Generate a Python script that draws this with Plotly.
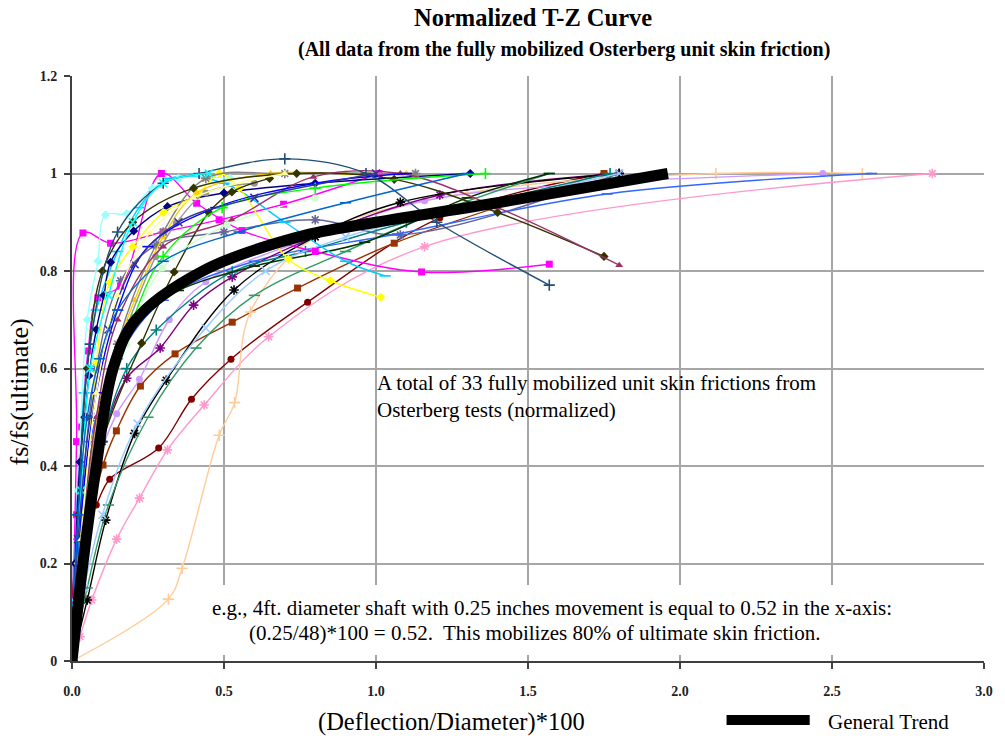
import plotly.graph_objects as go

# ---- normalized t-z data: (deflection/diameter*100, fs/fs_ult) ----
S01 = ([0, 0.026, 0.065, 0.147, 0.222, 0.314, 0.435, 0.647, 1.16, 2.83],
       [0, 0.05, 0.125, 0.25, 0.334, 0.433, 0.525, 0.665, 0.85, 1.0])
S02 = ([0, 0.02, 0.08, 0.124, 0.285, 0.393, 0.523, 0.775, 1.21, 1.75],
       [0, 0.25, 0.32, 0.373, 0.437, 0.537, 0.619, 0.736, 0.909, 1.0])
S03 = ([0, 0.03, 0.102, 0.146, 0.225, 0.339, 0.527, 0.742, 1.06, 1.75],
       [0, 0.2, 0.402, 0.472, 0.564, 0.63, 0.695, 0.765, 0.857, 1.0])
S04 = ([0, 0.317, 0.362, 0.484, 0.535, 0.587, 0.8, 1.3, 2.118, 2.6],
       [0, 0.127, 0.19, 0.463, 0.53, 0.716, 0.87, 0.96, 1.0, 1.0])
S05 = ([0, 0.003, 0.06, 0.147, 0.222, 0.32, 0.44, 0.75, 1.16, 1.725, 2.47],
       [0, 0.19, 0.36, 0.507, 0.578, 0.70, 0.778, 0.86, 0.944, 0.98, 1.0])
S06 = ([0, 0.02, 0.08, 0.16, 0.277, 0.5, 0.8, 1.08, 1.8],
       [0, 0.25, 0.6, 0.78, 0.853, 0.88, 0.905, 0.874, 1.0])
S07 = ([0, 0.02, 0.06, 0.15, 0.3, 0.6, 1.07, 1.76, 2.63],
       [0, 0.2, 0.45, 0.62, 0.74, 0.82, 0.876, 0.958, 1.0])
S08 = ([0, 0.03, 0.1, 0.18, 0.29, 0.40, 0.527, 0.8, 1.21, 1.8],
       [0, 0.2, 0.45, 0.58, 0.642, 0.73, 0.788, 0.87, 0.956, 1.0])
S09 = ([0, 0.05, 0.111, 0.206, 0.31, 0.533, 0.8, 1.08, 1.8],
       [0, 0.125, 0.289, 0.467, 0.576, 0.761, 0.87, 0.941, 1.0])
S10 = ([0, 0.05, 0.12, 0.25, 0.408, 0.6, 0.9, 1.2, 1.57],
       [0, 0.15, 0.32, 0.5, 0.642, 0.75, 0.84, 0.92, 1.0])
S11 = ([0, 0.03, 0.1, 0.18, 0.277, 0.527, 0.768, 1.1, 1.77],
       [0, 0.2, 0.45, 0.6, 0.679, 0.798, 0.84, 0.9, 1.0])
S12 = ([0, 0.03, 0.1, 0.2, 0.35, 0.6, 0.963, 1.3, 1.57],
       [0, 0.25, 0.55, 0.7, 0.76, 0.81, 0.859, 0.95, 1.0])
S13 = ([0, 0.04, 0.1, 0.216, 0.44, 0.637, 0.9, 1.3, 1.8],
       [0, 0.15, 0.3, 0.487, 0.683, 0.80, 0.87, 0.93, 1.0])
S14 = ([0, 0.015, 0.036, 0.127, 0.3, 0.484, 0.696, 1.01],
       [0, 0.45, 0.878, 0.857, 0.88, 0.905, 0.937, 1.0])
S15 = ([0, 0.015, 0.032, 0.053, 0.085, 0.16, 0.294, 0.41, 0.559, 0.8, 1.15, 1.57],
       [0, 0.3, 0.48, 0.636, 0.745, 0.769, 1.0, 0.939, 0.883, 0.84, 0.798, 0.814])
S16 = ([0, 0.015, 0.04, 0.08, 0.15, 0.22, 0.32, 0.5, 0.7, 0.9, 1.03],
       [0, 0.3, 0.55, 0.72, 0.84, 0.93, 0.99, 0.98, 0.9, 0.82, 0.79])
S17 = ([0, 0.02, 0.05, 0.085, 0.11, 0.18, 0.264, 0.35, 0.52],
       [0, 0.35, 0.7, 0.82, 0.915, 0.918, 0.97, 0.99, 0.99])
S18 = ([0, 0.01, 0.026, 0.042, 0.056, 0.08, 0.105, 0.127, 0.203, 0.314, 0.5, 0.8, 1.31],
       [0, 0.2, 0.408, 0.5, 0.585, 0.68, 0.75, 0.818, 0.882, 0.932, 0.96, 0.98, 1.0])
S19 = ([0, 0.02, 0.05, 0.08, 0.124, 0.2, 0.3, 0.415, 0.484, 0.55, 0.712, 0.85, 1.016],
       [0, 0.2, 0.395, 0.611, 0.777, 0.85, 0.92, 0.958, 1.0, 0.97, 0.824, 0.78, 0.746])
S20 = ([0, 0.04, 0.1, 0.206, 0.3, 0.41, 0.653, 0.9, 1.1],
       [0, 0.3, 0.55, 0.74, 0.87, 0.96, 1.0, 1.0, 1.0])
S21 = ([0, 0.02, 0.06, 0.12, 0.176, 0.275, 0.343, 0.44, 0.6],
       [0, 0.15, 0.4, 0.58, 0.679, 0.829, 0.898, 0.96, 0.98])
S22 = ([0, 0.05, 0.15, 0.3, 0.44, 0.7, 1.13],
       [0, 0.3, 0.65, 0.88, 0.99, 1.0, 1.0])
S23 = ([0, 0.03, 0.1, 0.229, 0.336, 0.45, 0.526, 0.65],
       [0, 0.2, 0.45, 0.652, 0.798, 0.92, 0.962, 0.99])
S24 = ([0, 0.02, 0.05, 0.1, 0.2, 0.4, 0.739, 1.06, 1.4, 1.75],
       [0, 0.3, 0.6, 0.8, 0.9, 0.97, 1.0, 0.988, 0.92, 0.83])
S25 = ([0, 0.03, 0.08, 0.15, 0.3, 0.526, 0.794, 1.08, 1.4, 1.8],
       [0, 0.25, 0.5, 0.7, 0.85, 0.905, 0.993, 1.0, 0.93, 0.812])
S26 = ([0, 0.03, 0.08, 0.15, 0.25, 0.473, 0.8, 1.1],
       [0, 0.3, 0.55, 0.72, 0.85, 0.93, 0.98, 1.0])
S27 = ([0, 0.03, 0.1, 0.2, 0.3, 0.494, 0.8, 1.36],
       [0, 0.2, 0.5, 0.7, 0.83, 0.93, 0.97, 1.0])
S28 = ([0, 0.03, 0.09, 0.18, 0.297, 0.51, 0.8],
       [0, 0.2, 0.45, 0.65, 0.806, 0.895, 0.95])
S29 = ([0, 0.02, 0.06, 0.15, 0.3, 0.418, 0.7, 0.967, 1.2, 1.57],
       [0, 0.3, 0.65, 0.88, 0.98, 1.0, 1.03, 1.0, 0.9, 0.771])
S30 = ([0, 0.01, 0.03, 0.06, 0.12, 0.2, 0.3, 0.45],
       [0, 0.12, 0.35, 0.6, 0.75, 0.9, 0.98, 1.0])
S31 = ([0, 0.02, 0.06, 0.12, 0.206, 0.35, 0.6, 1.0],
       [0, 0.25, 0.5, 0.68, 0.814, 0.9, 0.95, 1.0])
S32 = ([0, 0.03, 0.08, 0.15, 0.255, 0.4, 0.7],
       [0, 0.25, 0.55, 0.75, 0.878, 0.95, 1.0])
S33 = ([0, 0.02, 0.05, 0.09, 0.15, 0.3, 0.55, 0.9, 1.3],
       [0, 0.3, 0.5, 0.62, 0.72, 0.82, 0.88, 0.94, 1.0])

TREND_X = [0, 0.036, 0.08, 0.135, 0.21, 0.43, 0.745, 1.0, 1.4, 1.96]
TREND_Y = [0, 0.2, 0.4, 0.6, 0.7, 0.8, 0.87, 0.9, 0.94, 1.0]

X_TICKS = [0, 0.5, 1.0, 1.5, 2.0, 2.5, 3.0]
X_LABELS = ["0.0", "0.5", "1.0", "1.5", "2.0", "2.5", "3.0"]
Y_TICKS = [0, 0.2, 0.4, 0.6, 0.8, 1.0, 1.2]
Y_LABELS = ["0", "0.2", "0.4", "0.6", "0.8", "1", "1.2"]

# ---- per-series styling (line colour, marker symbol) ----
SERIES = [
    (S01, "#FF99CC", "asterisk-open"), (S02, "#800000", "circle"),
    (S03, "#993300", "square"), (S04, "#FFCC99", "cross-thin-open"),
    (S05, "#CC99FF", "circle"), (S06, "#666699", "asterisk-open"),
    (S07, "#3366FF", "line-ew-open"), (S08, "#800080", "asterisk-open"),
    (S09, "#000000", "asterisk-open"), (S10, "#339966", "line-ew-open"),
    (S11, "#008080", "cross-thin-open"), (S12, "#003300", "line-ew-open"),
    (S13, "#99CCFF", "x-thin-open"), (S14, "#FF00FF", "square"),
    (S15, "#FF00FF", "square"), (S16, "#00CCFF", "line-ew-open"),
    (S17, "#99FFFF", "diamond"), (S18, "#000080", "diamond"),
    (S19, "#FFFF00", "diamond"), (S20, "#FFCC00", "triangle-up"),
    (S21, "#969696", "circle"), (S22, "#808080", "asterisk-open"),
    (S23, "#333300", "diamond"), (S24, "#333300", "diamond"),
    (S25, "#993366", "triangle-up"), (S26, "#0000FF", "line-ew-open"),
    (S27, "#00FF00", "cross-thin-open"), (S28, "#CCFFCC", "circle"),
    (S29, "#1F4E79", "cross-thin-open"), (S30, "#00FFFF", "x-thin-open"),
    (S31, "#333399", "x-thin-open"), (S32, "#FFFF99", "triangle-up"),
    (S33, "#0066CC", "line-ew-open"),
]

SERIF = "Liberation Serif"
W, H = 1005, 742
L, R, T, B = 72, 12, 76, 81


def px(x):
    return (x - L) / (W - L - R)


def py(y):
    return (H - B - y) / (H - T - B)


def label(text, x, y, size, **kw):
    opts = dict(text=text, xref="paper", yref="paper", x=px(x), y=py(y),
                xanchor="center", yanchor="middle", showarrow=False,
                font=dict(family=SERIF, size=size, color="black"))
    opts.update(kw)
    return opts


fig = go.Figure()

for (xs, ys), color, symbol in SERIES:
    open_sym = symbol.endswith("-open")
    fig.add_trace(go.Scatter(
        x=xs, y=ys, mode="lines+markers",
        line=dict(color=color, width=1.4, shape="spline", smoothing=1.0),
        marker=dict(symbol=symbol, size=8 if open_sym else 7,
                    color=color,
                    line=dict(color=color, width=1.6 if open_sym else 0)),
        showlegend=False, hoverinfo="skip",
    ))

fig.add_trace(go.Scatter(
    x=TREND_X, y=TREND_Y, mode="lines",
    line=dict(color="black", width=11, shape="spline", smoothing=1.0),
    showlegend=False, name="General Trend",
))

axis_common = dict(
    showgrid=True, gridcolor="#A6A6A6", gridwidth=2,
    showline=True, linecolor="#404040", linewidth=2,
    zeroline=False, ticks="outside", tickcolor="#404040",
    tickwidth=1.5, ticklen=6,
    tickfont=dict(family=SERIF, size=14, color="#222222", weight="bold"),
)

fig.update_layout(
    width=W, height=H,
    margin=dict(l=L, r=R, t=T, b=B),
    paper_bgcolor="white", plot_bgcolor="white",
    xaxis=dict(range=[0, 3.0], tickvals=X_TICKS, ticktext=X_LABELS,
               ticklabelstandoff=10, **axis_common),
    yaxis=dict(range=[0, 1.2], tickvals=Y_TICKS, ticktext=Y_LABELS,
               ticklabelstandoff=4, **axis_common),
    shapes=[
        # white text box behind the worked example
        dict(type="rect", xref="paper", yref="paper",
             x0=px(205), x1=px(985), y0=py(655), y1=py(585),
             fillcolor="white", line=dict(width=0), layer="above"),
        # legend key for the general trend
        dict(type="line", xref="paper", yref="paper",
             x0=px(733), x1=px(817), y0=py(720), y1=py(720),
             line=dict(color="black", width=10)),
    ],
    annotations=[
        label("<b>Normalized T-Z Curve</b>", 538, 18, 24.5),
        label("<b>(All data from the fully mobilized Osterberg unit skin friction)</b>",
              569, 50, 20),
        label("fs/fs(ultimate)", 18, 392, 26, textangle=-90),
        label("(Deflection/Diameter)*100", 455, 722, 24.5),
        label("General Trend", 833, 722, 21, xanchor="left"),
        label("A total of 33 fully mobilized unit skin frictions from<br>"
              "Osterberg tests (normalized)", 378, 396, 21,
              xanchor="left", align="left"),
        label("e.g., 4ft. diameter shaft with 0.25 inches movement is equal to 0.52 in the x-axis:",
              557, 608, 21),
        label("(0.25/48)*100 = 0.52.  This mobilizes 80% of ultimate skin friction.",
              539, 633, 21),
    ],
)

fig.write_html("out.html")
